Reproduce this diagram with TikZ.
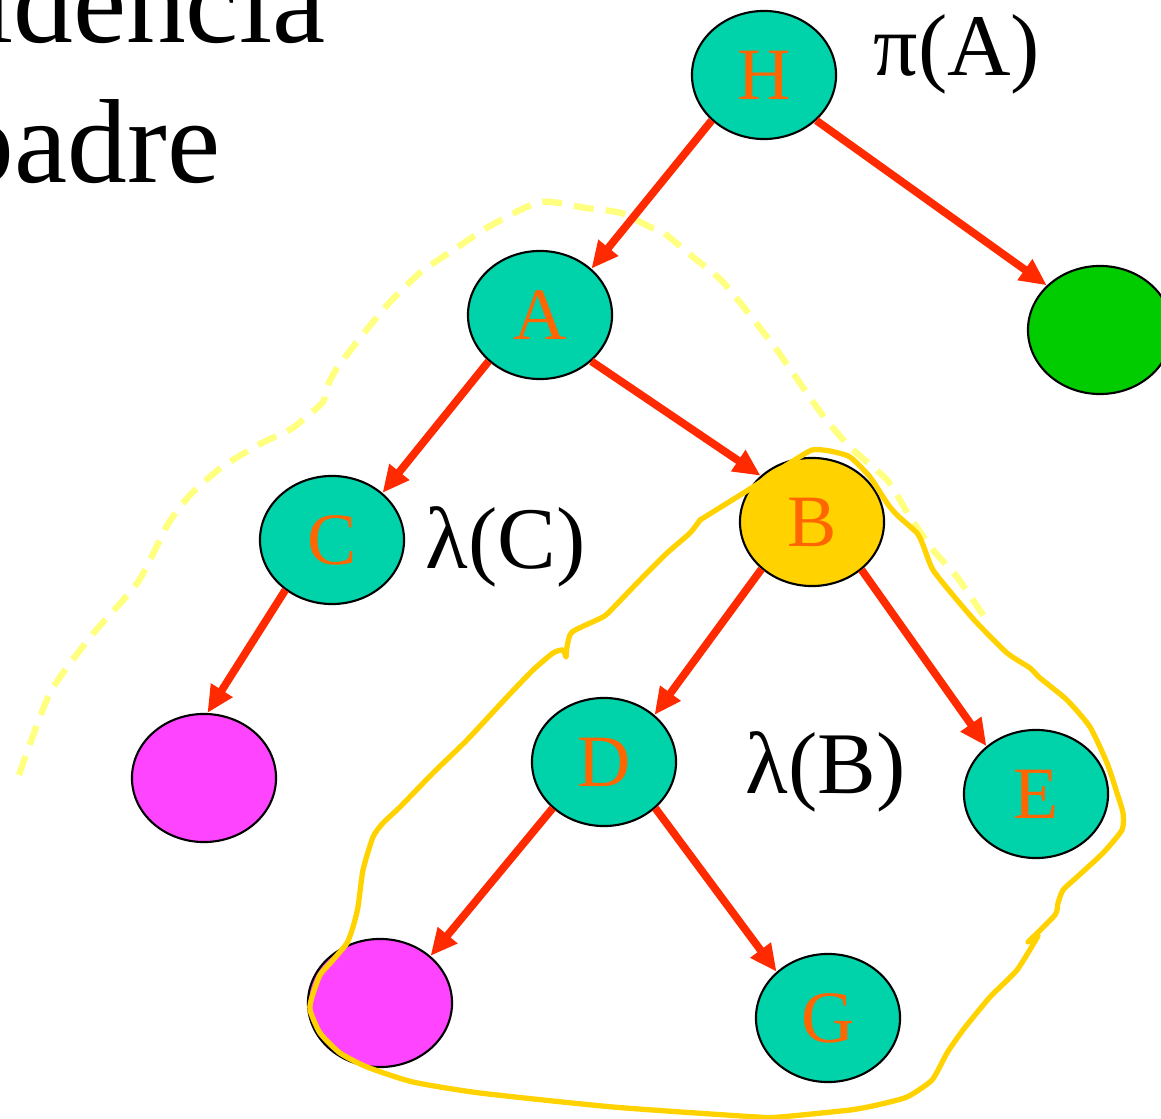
\documentclass[tikz,border=0pt]{standalone}
\usepackage{fontspec}
\setmainfont{Liberation Serif}
\usetikzlibrary{arrows.meta,shapes.geometric}
\definecolor{nodoturquesa}{RGB}{0,210,170}
\definecolor{letranaranja}{RGB}{255,102,0}
\definecolor{flecharoja}{RGB}{255,42,0}
\definecolor{amarilloB}{RGB}{255,210,0}
\definecolor{amarillopalido}{RGB}{255,255,128}
\definecolor{rosa}{RGB}{255,68,255}
\definecolor{verde}{RGB}{0,204,0}

\begin{document}
\begin{tikzpicture}[x=0.01cm,y=-0.01cm,
  nodo/.style={ellipse,draw=black,line width=0.6pt,fill=nodoturquesa,minimum width=1.44cm,
    minimum height=1.28cm,inner sep=0pt,text=letranaranja,font=\fontsize{21}{21}\selectfont},
  arista/.style={draw=flecharoja,line width=2.2pt,-{Triangle[length=0.27cm,width=0.24cm]}},
  etiqueta/.style={anchor=base west,inner sep=0pt,font=\fontsize{25}{25}\selectfont},
  titulo/.style={anchor=base east,inner sep=0pt,font=\fontsize{34}{34}\selectfont}]
  \useasboundingbox (0,0) rectangle (1161,1119);
  \clip (0,0) rectangle (1161,1119);

  \node[titulo] (tit1) at (326,43) {idencia};
  \node[titulo] (tit2) at (221,183) {padre};

  % contorno de pi(A)
  \draw[amarillopalido,line width=1.8pt,dash pattern=on 0.2cm off 0.12cm,line join=round]
    plot[smooth,tension=0.4] coordinates {(19,775) (50,693) (92,635) (138,582) (168,524)
    (191,494) (222,467) (260,444) (291,429) (306,417) (323,402) (327,387) (337,368) (364,333)
    (390,302) (421,272) (455,249) (490,226) (540,202) (586,208) (621,213) (650,227) (664,233)
    (693,257) (721,280) (746,310) (779,353) (821,413) (850,447) (887,480) (910,517) (933,550)
    (957,577) (985,618)};

  \node[nodo] (H) at (764,75) {H};
  \node[nodo] (A) at (540,315) {A};
  \node[nodo,fill=verde] (Hd) at (1100,330) {};
  \node[nodo] (C) at (332,540) {C};
  \node[nodo,fill=amarilloB] (B) at (812,522) {B};
  \node[nodo,fill=rosa] (Ci) at (204,778) {};
  \node[nodo] (D) at (604,762) {D};
  \node[nodo] (E) at (1036,794) {E};
  \node[nodo,fill=rosa] (Di) at (380,1003) {};
  \node[nodo] (G) at (828,1018) {G};

  \node[etiqueta] (piA) at (873,76) {π(A)};
  \node[etiqueta] (lamC) at (425,568) {λ(C)};
  \node[etiqueta] (lamB) at (745,793) {λ(B)};

  \draw[arista] (H.221) -- (A.42);
  \draw[arista] (H.-41) -- (Hd.140);
  \draw[arista] (A.222) -- (C.43);
  \draw[arista] (A.-42) -- (B.138);
  \draw[arista] (C.227) -- (Ci.87);
  \draw[arista] (B.223) -- (D.43);
  \draw[arista] (B.-44) -- (E.136);
  \draw[arista] (D.222) -- (Di.43);
  \draw[arista] (D.-42) -- (G.138);

  % contorno de lambda(B)
  \draw[amarilloB,line width=1.5pt,line join=round,line cap=round]
    plot[smooth,tension=0.35] coordinates {(700,520) (753,487) (790,463) (812,450) (830,451)
    (850,457) (870,477) (887,503) (897,515) (917,533) (923,545) (933,570) (957,600) (977,623)
    (1007,653) (1030,668) (1040,678) (1067,700) (1090,727) (1107,763) (1117,793) (1123,813)
    (1122,830) (1103,853) (1077,877) (1063,890) (1058,903) (1055,915) (1028,942)};
  \draw[amarilloB,line width=1.5pt,line join=round,line cap=round]
    plot[smooth,tension=0.35] coordinates {(1038,936) (1017,970) (990,997) (963,1030) (947,1053)
    (932,1080) (907,1097) (877,1105) (850,1110) (780,1117) (757,1117) (613,1107) (480,1093)
    (413,1082) (367,1067) (340,1053) (320,1033) (310,1010) (312,997) (320,975) (333,960)
    (347,943) (353,927) (358,907) (363,870) (373,837) (383,823) (400,807) (433,773) (467,740)
    (507,697) (533,670) (553,653) (563,650) (566,657) (567,647) (572,632) (603,617) (613,608)
    (640,580) (667,553) (690,533) (700,520)};
\end{tikzpicture}
\end{document}
